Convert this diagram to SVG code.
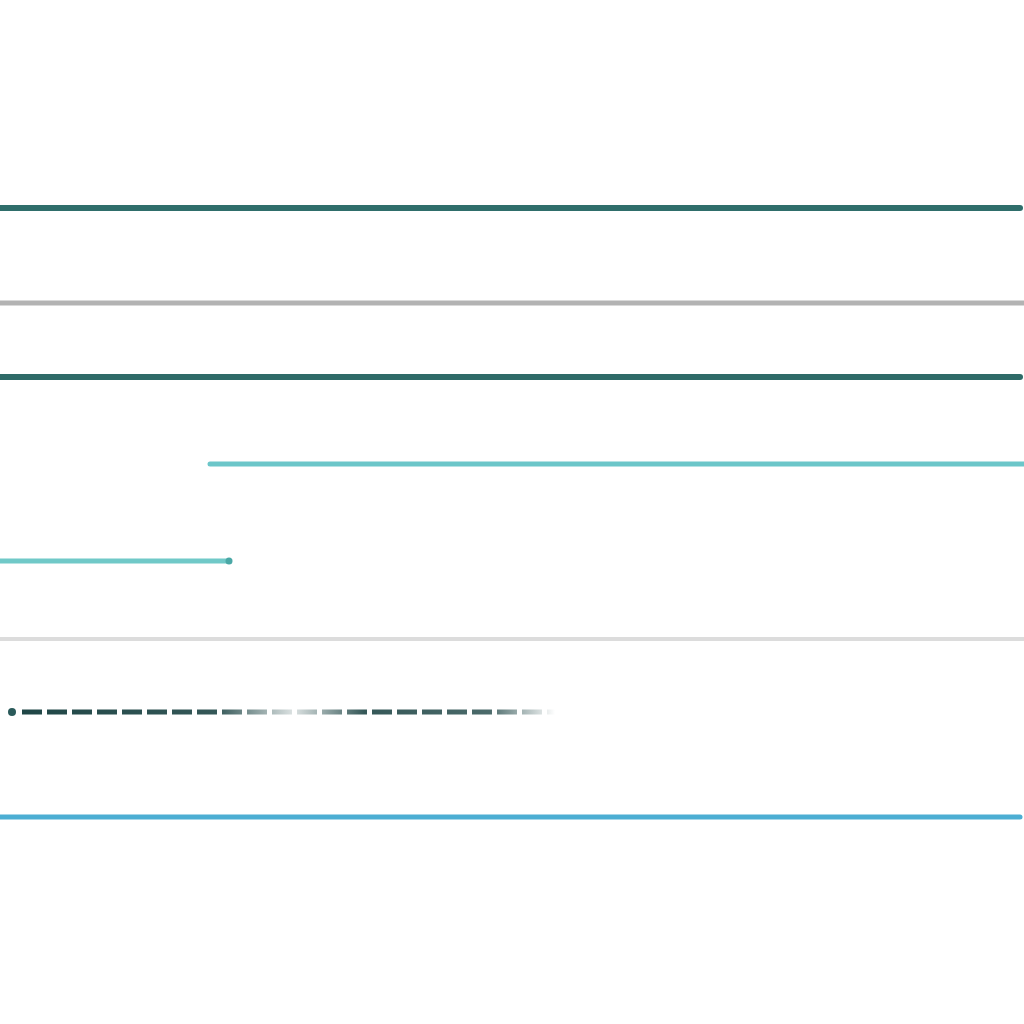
<svg xmlns="http://www.w3.org/2000/svg" width="1024" height="1024" viewBox="0 0 1024 1024">
<defs>
<linearGradient id="fade" gradientUnits="userSpaceOnUse" x1="10" y1="0" x2="555" y2="0">
<stop offset="0" stop-color="#1e4545" stop-opacity="1"/>
<stop offset="0.38" stop-color="#1e4545" stop-opacity="0.9"/>
<stop offset="0.52" stop-color="#1e4545" stop-opacity="0.15"/>
<stop offset="0.65" stop-color="#1e4545" stop-opacity="0.9"/>
<stop offset="0.88" stop-color="#1e4545" stop-opacity="0.8"/>
<stop offset="1" stop-color="#1e4545" stop-opacity="0"/>
</linearGradient>
<style>
.l{fill:none;stroke-linecap:round}
</style>
</defs>
<rect width="1024" height="1024" fill="#fff"/>
<g id="connectors">
<line class="l" x1="-5" y1="208" x2="1020" y2="208" stroke="#2f6e6b" stroke-width="6"/>
<line class="l" x1="-5" y1="303" x2="1024" y2="303" stroke="#b3b3b3" stroke-width="5"/>
<line class="l" x1="-5" y1="377" x2="1020" y2="377" stroke="#2f6b68" stroke-width="6"/>
<line class="l" x1="210" y1="464" x2="1030" y2="464" stroke="#6cc6c9" stroke-width="5"/>
<line class="l" x1="-5" y1="561" x2="228" y2="561" stroke="#70c9c8" stroke-width="5"/>
<circle cx="229" cy="561" r="3.5" fill="#4aa8a6"/>
<line class="l" x1="-5" y1="639" x2="1024" y2="639" stroke="#dcdcdc" stroke-width="4"/>
<circle cx="12" cy="712" r="4" fill="#2a5a5a"/>
<line x1="22" y1="712" x2="555" y2="712" stroke="url(#fade)" stroke-width="5" stroke-dasharray="20 5"/>
<line class="l" x1="-5" y1="817" x2="1020" y2="817" stroke="#4caed3" stroke-width="5"/>
</g>
</svg>
